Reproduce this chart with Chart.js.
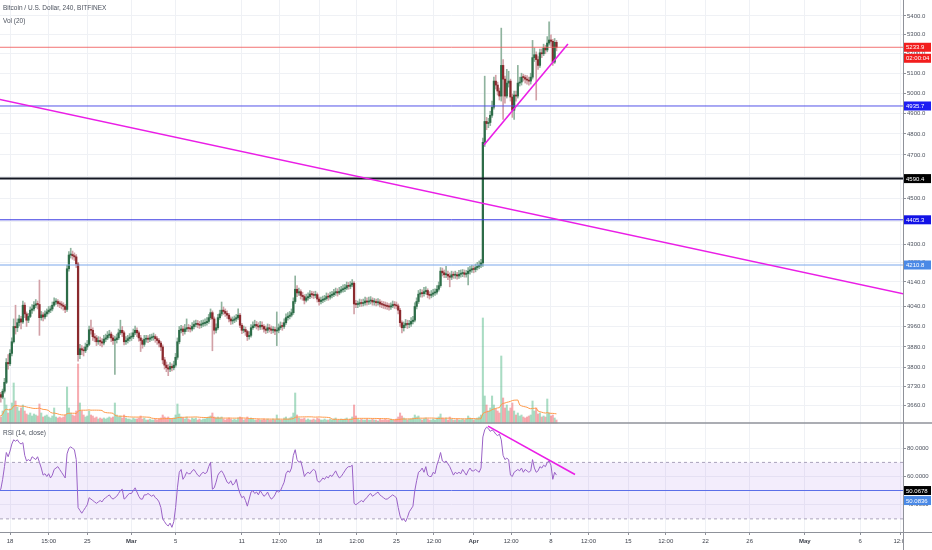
<!DOCTYPE html>
<html>
<head>
<meta charset="utf-8">
<title>BTCUSD 240 BITFINEX</title>
<script src="https://cdn.jsdelivr.net/npm/chart.js@4.4.1/dist/chart.umd.min.js"></script>
<style>
  html, body { margin: 0; padding: 0; background: #fff; }
  canvas { display: block; }
</style>
</head>
<body>
<canvas id="btcChart" width="932" height="550"></canvas>
<script>
// 4h candles, time axis in days since Feb 18 2019
const firstDay = -1;
const stepDay = 1 / 6;
const firstOpen = 3705;

const closes = [
  3700,3690,3712,3745,3820,3815,3855,3900,3960,3955,3975,3990,3978,4045,4010,3985,4000,4025,4030,4045,
  4050,4048,3995,4006,3998,4010,4018,4025,4030,4045,4058,4060,4052,4050,4045,4040,4028,4195,4253,4255,
  4250,4245,4215,3850,3873,3868,3865,3880,3890,3947,3945,3920,3915,3900,3905,3900,3895,3910,3915,3925,
  3930,3915,3905,3908,3915,3935,3945,3935,3900,3905,3912,3918,3920,3935,3945,3935,3915,3905,3890,3910,
  3912,3910,3915,3918,3920,3912,3905,3895,3880,3830,3810,3800,3795,3805,3800,3810,3840,3900,3945,3950,
  3940,3950,3955,3952,3950,3960,3968,3972,3968,3965,3970,3972,3975,3980,3995,4015,3990,3945,3955,3995,
  4010,4025,4020,4012,4005,3990,3982,3985,3990,3995,4005,3965,3945,3948,3940,3920,3925,3955,3962,3968,
  3962,3958,3965,3960,3950,3945,3955,3950,3945,3948,3942,3945,3955,3962,3960,3975,3995,4000,4005,4015,
  4060,4110,4095,4100,4085,4080,4065,4075,4080,4090,4088,4085,4088,4070,4060,4065,4068,4072,4080,4078,
  4085,4088,4095,4100,4095,4102,4108,4112,4115,4125,4122,4128,4135,4050,4048,4050,4055,4052,4055,4062,
  4058,4062,4065,4058,4060,4055,4058,4050,4048,4045,4042,4040,4038,4042,4048,4045,4042,4025,3975,3955,
  3965,3972,3968,3970,3980,3985,4040,4060,4090,4095,4092,4100,4105,4088,4085,4090,4095,4098,4110,4125,
  4185,4178,4170,4172,4165,4160,4170,4168,4170,4165,4172,4175,4178,4172,4175,4185,4190,4195,4192,4200,
  4205,4210,4220,4760,4860,4850,4855,4890,4930,5060,5040,5010,4985,5140,5070,4985,5050,5060,4980,4915,
  4990,4985,5050,5055,5080,5078,5070,5065,5060,5080,5180,5195,5170,5140,5205,5200,5230,5220,5256,5272,
  5265,5157,5260,5233.9
];

const highs = [
  3715,3708,3720,3760,3835,3850,3870,3915,3990,4045,3990,4005,4000,4062,4055,4018,4012,4038,4048,4060,
  4068,4062,4148,4020,4015,4022,4030,4040,4042,4058,4075,4072,4068,4062,4060,4055,4048,4210,4268,4282,
  4270,4262,4255,4222,3890,3885,3880,3895,3905,3962,3985,3955,3932,3925,3920,3918,3912,3925,3930,3940,
  3945,3938,3925,3922,3930,3950,3985,3960,3942,3920,3925,3932,3935,3950,3962,3955,3942,3925,3912,3925,
  3925,3924,3928,3930,3934,3928,3920,3912,3902,3888,3840,3822,3812,3820,3815,3825,3855,3915,3960,3965,
  3962,3968,3990,3968,3965,3975,3982,3985,3984,3980,3984,3986,3990,3995,4008,4030,4022,3998,3970,4008,
  4025,4058,4038,4030,4022,4012,3998,3998,4002,4008,4030,4012,3972,3962,3958,3945,3940,3968,3978,3985,
  3980,3975,3980,3978,3968,3962,3970,3968,3962,3960,3958,4018,3970,3978,3975,3990,4010,4015,4020,4030,
  4075,4165,4125,4115,4108,4098,4088,4090,4095,4105,4102,4100,4102,4095,4078,4078,4082,4085,4095,4092,
  4098,4102,4110,4115,4112,4118,4122,4128,4130,4140,4138,4142,4150,4142,4065,4062,4070,4068,4070,4078,
  4075,4078,4080,4075,4072,4070,4072,4068,4062,4060,4058,4055,4052,4055,4062,4060,4058,4050,4032,3982,
  3978,3988,3985,3984,3995,4000,4055,4075,4105,4110,4108,4118,4120,4112,4100,4105,4110,4112,4125,4140,
  4200,4198,4190,4205,4185,4178,4185,4182,4185,4180,4188,4190,4192,4190,4188,4200,4205,4210,4208,4215,
  4222,4228,4235,4780,5085,4880,4875,4910,4960,5080,5090,5055,5025,5335,5170,5085,5120,5110,5070,4995,
  5010,5010,5140,5080,5100,5095,5090,5088,5080,5100,5270,5230,5210,5185,5225,5225,5250,5245,5290,5368,
  5300,5275,5280,5270
];

const lows = [
  3685,3672,3684,3705,3740,3795,3808,3845,3895,3930,3940,3962,3950,3972,3995,3960,3975,3995,4012,4022,
  4035,4030,3925,3985,3982,3990,4000,4010,4015,4022,4040,4048,4040,4035,4030,4025,4015,4020,4185,4240,
  4235,4230,4200,3825,3835,3850,3845,3858,3870,3885,3930,3905,3900,3885,3890,3885,3880,3888,3900,3908,
  3915,3900,3890,3775,3895,3908,3928,3920,3888,3890,3895,3902,3905,3912,3928,3920,3902,3862,3875,3882,
  3898,3896,3900,3905,3906,3898,3890,3880,3865,3815,3795,3785,3770,3785,3788,3792,3802,3832,3892,3935,
  3925,3930,3940,3940,3938,3942,3950,3958,3955,3952,3955,3960,3962,3965,3972,3988,3865,3930,3935,3948,
  3988,4002,4008,4000,3992,3978,3968,3970,3975,3980,3988,3955,3932,3935,3925,3905,3910,3918,3948,3955,
  3950,3945,3948,3948,3938,3932,3935,3938,3932,3935,3928,3885,3935,3948,3945,3952,3968,3985,3990,3998,
  4008,4052,4080,4085,4070,4065,4050,4058,4065,4072,4075,4072,4075,4058,4045,4050,4055,4060,4065,4065,
  4070,4075,4080,4085,4082,4088,4095,4098,4100,4108,4110,4112,4120,4010,4035,4035,4040,4040,4042,4045,
  4045,4048,4050,4045,4045,4042,4045,4038,4035,4032,4030,4028,4025,4028,4035,4032,4030,4010,3960,3935,
  3942,3955,3952,3955,3960,3970,3978,4030,4052,4078,4078,4082,4090,4075,4070,4075,4080,4085,4090,4102,
  4118,4165,4158,4158,4150,4120,4150,4155,4155,4152,4155,4160,4162,4160,4160,4128,4172,4180,4178,4182,
  4190,4195,4200,4205,4740,4820,4830,4840,4880,4920,5020,4990,4965,4960,4870,4950,4975,5030,4960,4880,
  4870,4960,4975,5035,5040,5060,5050,5045,5040,5045,5070,5160,4965,5120,5130,5180,5190,5200,5210,5245,
  5240,5140,5150,5215
];

const volumes = [
  800,600,1200,2500,1800,1000,1400,2000,4000,2200,1600,1200,1500,1800,1200,900,800,1000,700,900,
  800,700,1900,1000,600,700,800,600,500,700,1500,600,500,600,500,600,800,3600,1500,1000,
  800,700,1200,5900,2000,1200,800,600,700,1200,800,700,500,600,400,500,400,500,400,500,
  600,500,600,2000,800,600,700,500,800,500,400,400,300,500,400,400,500,700,400,500,
  300,300,400,300,300,400,300,400,500,800,600,500,600,400,400,500,800,1900,900,600,
  500,400,600,400,300,500,400,500,300,400,300,400,400,500,600,700,1000,600,500,600,
  500,600,400,300,400,500,400,300,400,300,500,600,500,300,400,600,400,500,400,300,
  300,400,300,300,400,300,400,300,300,400,300,800,400,300,300,500,600,400,500,600,
  1000,3000,800,500,400,400,500,300,400,300,300,400,300,500,400,300,300,400,300,300,
  400,300,400,500,300,300,400,300,400,500,300,400,600,1800,700,400,300,400,300,300,
  400,300,300,400,300,300,200,400,300,300,400,300,300,400,300,300,400,600,1000,700,
  500,400,300,400,400,500,800,600,700,400,300,400,500,400,300,300,400,300,500,600,
  900,500,400,500,300,600,400,300,300,400,300,300,400,300,400,700,500,400,300,400,
  500,600,800,10500,2700,1800,1200,1500,2700,1800,1400,1200,1000,6700,2500,1500,1800,1200,1500,2000,
  1200,800,1000,700,800,600,500,600,700,800,2200,1200,1500,900,1000,600,700,600,2400,1000,
  700,800,500,300
];

const rsiValues = [
  50,51,58,67,77,74,78,83,86,85,86,84,83,84,75,71,72,71,74,73,
  72,74,70,66,61,62,60,62,59,61,65,66,67,65,63,61,59,76,80,81,
  80,79,72,38,36,34,36,38,40,45,44,43,42,41,42,43,42,44,45,46,
  47,45,44,45,46,48,50,51,44,45,47,48,48,50,52,49,46,44,44,47,
  47,48,47,46,47,45,44,42,38,30,28,26,25,27,24,28,38,52,63,65,
  58,60,63,62,62,64,65,63,61,60,62,63,62,63,67,70,51,52,56,61,
  63,64,62,59,56,55,57,54,55,58,52,48,45,46,43,39,44,49,50,48,
  49,47,50,48,46,47,49,46,44,45,47,50,49,50,53,56,62,64,63,66,
  75,79,72,70,71,66,60,62,63,62,64,65,64,57,56,57,59,58,60,59,
  61,60,62,64,61,59,60,62,64,66,67,67,68,41,40,41,42,43,42,44,
  45,47,48,46,47,48,49,47,46,45,44,44,45,46,47,46,45,38,32,29,
  30,28,31,35,37,39,50,57,63,64,66,63,67,61,60,60,63,62,68,72,
  77,71,70,71,69,67,64,61,63,62,63,62,65,63,61,64,66,64,64,65,
  64,63,66,88,93,95,94,92,93,92,90,89,90,86,75,72,73,72,61,60,
  63,64,65,64,66,63,65,64,63,64,72,66,63,64,67,66,68,67,70,71,
  68,58,63,61
];

const priceTicks = [5400,5300,5200,5100,5000,4900,4800,4700,4600,4500,4400,4300,4220,4140,4040,3960,3880,3800,3730,3660,3592];
const rsiTicks = [40, 60, 80];
const timeTicks = [0, 3.5, 7, 11, 15, 21, 24.4, 28, 31.4, 35, 38.4, 42, 45.4, 49, 52.4, 56, 59.4, 63, 67, 72, 77, 80.7];
const timeLabels = ['18','15:00','25','Mar','5','11','12:00','18','12:00','25','12:00','Apr','12:00','8','12:00','15','12:00','22','26','May','6','12:00'];
const monthLabels = ['Mar', 'Apr', 'May'];

// horizontal levels drawn on the chart
const levels = [5233.9, 4935.7, 4590.4, 4405.3, 4210.8];
const levelLine = ['rgba(240,90,90,0.85)', '#5353e8', '#131722', '#3434e2', '#7aa7eb'];
const levelWidth = [1, 1, 2, 1, 1];
const levelTag = ['#f21d1d', '#1d1df2', '#000000', '#1212e6', '#4a89e6'];
const rsiLevels = [50.0678, 50.0836];

// trend lines: [day, value]
const trendMain = [[-1, 4969], [82, 4081]];
const trendApril = [[42.93, 4747], [50.54, 5251]];
const trendRsi = [[43.3, 95.7], [51.18, 61.4]];

// visible window
const xMin = -0.906, xMax = 80.89;
const priceTop = 5487, priceBottom = 3596;
const rsiTop = 97.9, rsiBottom = 20.7;
const volTop = 42300;
const mainWeight = 423, rsiWeight = 109;

const days = closes.map((c, i) => firstDay + i * stepDay);
const opens = closes.map((c, i) => i === 0 ? firstOpen : closes[i - 1]);
const up = closes.map((c, i) => c >= opens[i]);
const volMA = volumes.map((v, i) => {
  const win = volumes.slice(Math.max(0, i - 19), i + 1);
  return win.reduce((a, b) => a + b, 0) / win.length;
});

const seg = (pts) => pts.map(p => ({ x: p[0], y: p[1] }));
const flat = (v) => [{ x: xMin, y: v }, { x: xMax, y: v }];
const lineDs = (data, axis, color, width, order, extra) => Object.assign({
  type: 'line', data, yAxisID: axis, borderColor: color, borderWidth: width,
  pointRadius: 0, tension: 0, order
}, extra || {});

const FONT = 'Liberation Sans';
Chart.defaults.font.family = FONT;

const noPad = (s) => { s.paddingLeft = 0; s.paddingRight = 0; s.paddingTop = 0; s.paddingBottom = 0; };

const overlay = {
  id: 'overlay',
  afterDraw(chart) {
    const { ctx } = chart;
    const x = chart.scales.x, y = chart.scales.y, r = chart.scales.rsi;
    ctx.save();
    ctx.fillStyle = '#fff';
    ctx.fillRect(x.right + 1, r.bottom + 1, chart.width - x.right, chart.height - r.bottom);

    ctx.strokeStyle = '#8f929a';
    ctx.lineWidth = 1.5;
    ctx.beginPath(); ctx.moveTo(0, y.bottom); ctx.lineTo(chart.width, y.bottom); ctx.stroke();
    ctx.lineWidth = 1;
    ctx.beginPath(); ctx.moveTo(0, r.bottom + 0.5); ctx.lineTo(chart.width, r.bottom + 0.5); ctx.stroke();
    ctx.beginPath(); ctx.moveTo(x.right + 0.5, 0); ctx.lineTo(x.right + 0.5, chart.height); ctx.stroke();

    ctx.fillStyle = '#4c525e';
    ctx.font = '6.5px "' + FONT + '"';
    ctx.textBaseline = 'middle';
    ctx.fillText('Bitcoin / U.S. Dollar, 240, BITFINEX', 3, 8);
    ctx.fillText('Vol (20)', 3, 21);
    ctx.fillText('RSI (14, close)', 3, r.top + 10);

    ctx.font = '6px "' + FONT + '"';
    const tag = (text, yc, bg) => {
      ctx.fillStyle = bg;
      ctx.fillRect(x.right + 1, yc - 4.5, 27, 9);
      ctx.fillStyle = '#fff';
      ctx.fillText(text, x.right + 3, yc + 0.5);
    };
    levels.forEach((v, k) => tag(v.toFixed(1), y.getPixelForValue(v), levelTag[k]));
    tag('02:00:04', y.getPixelForValue(levels[0]) + 11, levelTag[0]);
    const r0 = r.getPixelForValue(rsiLevels[0]);
    tag(rsiLevels[0].toFixed(4), r0, '#000000');
    tag(rsiLevels[1].toFixed(4), r0 + 10, '#4a89e6');
    ctx.restore();
  }
};

const axisFont = { family: FONT, size: 6 };

new Chart(document.getElementById('btcChart'), {
  data: {
    datasets: [
      lineDs(flat(70), 'rsi', '#aaa3bb', 1, 10, { borderDash: [3, 3] }),
      lineDs(flat(30), 'rsi', '#aaa3bb', 1, 10, { borderDash: [3, 3], fill: '-1', backgroundColor: 'rgba(155,110,230,0.12)' }),
      lineDs(flat(rsiLevels[1]), 'rsi', '#5b6fe8', 1, 6),
      lineDs(days.map((d, i) => ({ x: d, y: rsiValues[i] })), 'rsi', '#9a62c6', 1, 3),
      lineDs(seg(trendRsi), 'rsi', '#ea1ee6', 1.6, 1),
      {
        type: 'bar', yAxisID: 'vol', grouped: false, order: 9, barThickness: 1.4,
        data: days.map((d, i) => ({ x: d, y: volumes[i] })),
        backgroundColor: up.map(u => u ? 'rgba(83,185,135,0.5)' : 'rgba(240,90,100,0.5)')
      },
      lineDs(days.map((d, i) => ({ x: d, y: volMA[i] })), 'vol', '#ff9a4a', 1, 8),
      {
        type: 'bar', yAxisID: 'y', grouped: false, order: 5, barThickness: 1,
        data: days.map((d, i) => ({ x: d, y: [lows[i], highs[i]] })),
        backgroundColor: up.map(u => u ? '#8fb39e' : '#d2a1a7')
      },
      {
        type: 'bar', yAxisID: 'y', grouped: false, order: 4, barThickness: 1.6, minBarLength: 1,
        data: days.map((d, i) => ({ x: d, y: [opens[i], closes[i]] })),
        backgroundColor: up.map(u => u ? '#2d6c48' : '#8b2a2e')
      },
      ...levels.map((v, k) => lineDs(flat(v), 'y', levelLine[k], levelWidth[k], 2)),
      lineDs(seg(trendMain), 'y', '#ea1ee6', 1.6, 1),
      lineDs(seg(trendApril), 'y', '#ea1ee6', 1.6, 1)
    ]
  },
  options: {
    responsive: false,
    animation: false,
    events: [],
    layout: { padding: 0 },
    plugins: { legend: { display: false }, tooltip: { enabled: false } },
    scales: {
      x: {
        type: 'linear', position: 'bottom', min: xMin, max: xMax, bounds: 'data', offset: false,
        grid: { color: '#eff1f5', tickLength: 3, tickColor: '#8f929a', offset: false },
        border: { display: false },
        ticks: {
          color: '#3f434d', maxRotation: 0, autoSkip: false, padding: 3,
          font: (c) => ({ family: FONT, size: 6,
            weight: c.tick && monthLabels.includes(timeLabels[c.index]) ? 'bold' : 'normal' }),
          callback: (v, i) => timeLabels[i]
        },
        afterBuildTicks: s => { s.ticks = timeTicks.map(v => ({ value: v })); },
        afterFit: s => { s.height = 18; noPad(s); }
      },
      y: {
        type: 'logarithmic', position: 'right', stack: 'pane', stackWeight: mainWeight, stacked: false,
        min: priceBottom, max: priceTop, bounds: 'data',
        grid: { color: '#eff1f5', tickLength: 3, tickColor: '#8f929a' },
        border: { display: false },
        ticks: { font: axisFont, color: '#4c525e', padding: 1, callback: v => Number(v).toFixed(1) },
        afterBuildTicks: s => { s.ticks = priceTicks.filter(v => v >= s.min && v <= s.max).map(v => ({ value: v })); },
        afterFit: s => { s.width = 29; noPad(s); }
      },
      rsi: {
        type: 'linear', position: 'right', stack: 'pane', stackWeight: rsiWeight, stacked: false,
        min: rsiBottom, max: rsiTop, bounds: 'data',
        grid: { color: '#eff1f5', tickLength: 3, tickColor: '#8f929a' },
        border: { display: false },
        ticks: { font: axisFont, color: '#4c525e', padding: 1, callback: v => Number(v).toFixed(4) },
        afterBuildTicks: s => { s.ticks = rsiTicks.map(v => ({ value: v })); },
        afterFit: s => { s.width = 29; noPad(s); }
      },
      vol: {
        type: 'linear', display: false, stacked: false,
        min: -volTop * rsiWeight / mainWeight, max: volTop,
        afterFit: noPad
      }
    }
  },
  plugins: [overlay]
});
</script>
</body>
</html>
